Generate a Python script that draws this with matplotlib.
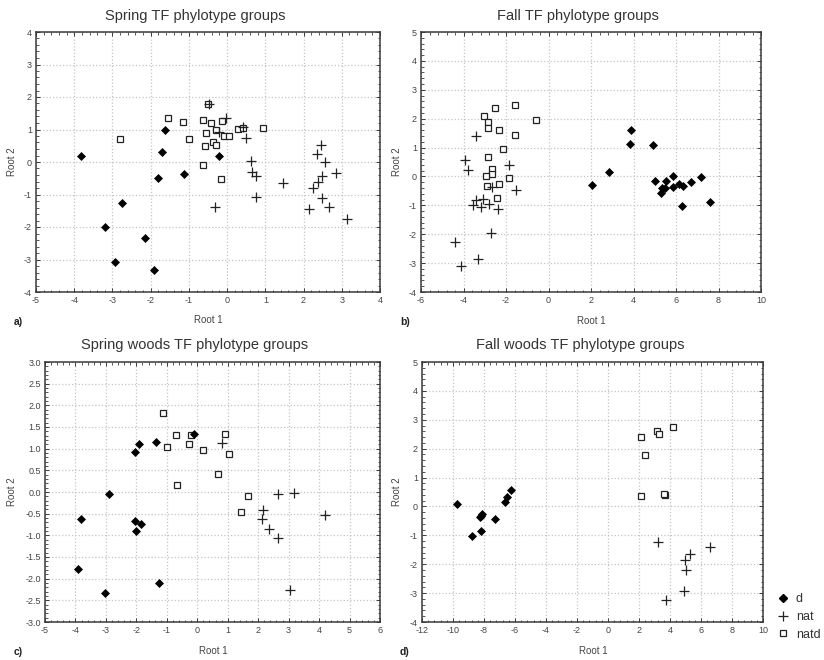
import numpy as np
import matplotlib
matplotlib.use("Agg")
import matplotlib.pyplot as plt
from matplotlib.ticker import MultipleLocator, AutoMinorLocator, FormatStrFormatter
from matplotlib.lines import Line2D

plt.rcParams['font.family'] = ['Liberation Sans', 'DejaVu Sans']
plt.rcParams['axes.unicode_minus'] = False

W, H = 824, 660

# ------------------------------------------------------------------
# Discriminant scores (Root 1, Root 2) per group
# ------------------------------------------------------------------
# a) Spring TF
spring_d_x = [-3.81, -1.63, -1.71, -1.80, -1.12, -0.22, -2.75, -3.19, -2.15, -2.94, -1.90]
spring_d_y = [0.18, 0.99, 0.31, -0.48, -0.36, 0.18, -1.26, -1.99, -2.35, -3.08, -3.31]
spring_nat_x = [-0.47, -0.04, 0.41, 0.50, 0.62, 0.66, 0.76, 0.76, 1.45, -0.32, 2.45,
                2.34, 2.56, 2.84, 2.48, 2.38, 2.25, 2.48, 2.15, 2.66, 3.14, -0.22]
spring_nat_y = [1.80, 1.36, 1.08, 0.73, 0.04, -0.31, -0.43, -1.09, -0.65, -1.37, 0.51,
                0.26, 0.01, -0.33, -0.42, -0.63, -0.80, -1.12, -1.44, -1.39, -1.76, 0.93]
spring_natd_x = [-2.80, -1.54, -1.15, -0.99, -0.64, -0.43, -0.50, -0.54, -0.28, -0.14,
                 -0.58, -0.37, -0.29, -0.08, 0.04, 0.28, 0.42, 0.93, -0.64, -0.16]
spring_natd_y = [0.71, 1.36, 1.24, 0.71, 1.30, 1.21, 1.77, 0.90, 0.99, 1.27,
                 0.49, 0.62, 0.53, 0.81, 0.81, 1.02, 1.04, 1.06, -0.10, -0.53]

# b) Fall TF
fall_d_x = [2.03, 2.85, 3.90, 3.85, 4.90, 5.01, 5.53, 5.87, 5.29, 5.36, 5.48, 5.87,
            6.16, 6.31, 6.69, 7.16, 6.30, 7.60]
fall_d_y = [-0.28, 0.14, 1.61, 1.11, 1.09, -0.15, -0.15, 0.03, -0.56, -0.39, -0.39, -0.35,
            -0.27, -0.34, -0.18, -0.03, -1.02, -0.88]
fall_nat_x = [-3.41, -3.92, -3.77, -1.86, -1.52, -2.67, -3.42, -3.06, -3.56, -3.19,
              -2.78, -2.39, -2.72, -4.40, -3.33, -4.10]
fall_nat_y = [1.39, 0.57, 0.23, 0.40, -0.48, -0.36, -0.83, -0.79, -1.00, -1.06,
              -0.97, -1.13, -1.96, -2.27, -2.87, -3.11]
fall_natd_x = [-2.52, -1.59, -3.05, -2.84, -2.84, -2.31, -0.59, -1.59, -2.13, -2.84,
               -2.64, -2.66, -2.94, -2.88, -2.31, -1.84, -2.42]
fall_natd_y = [2.38, 2.48, 2.09, 1.87, 1.68, 1.61, 1.95, 1.44, 0.94, 0.69,
               0.26, 0.08, 0.03, -0.33, -0.26, -0.07, -0.75]

# c) Spring woods TF
swoods_d_x = [-3.83, -2.90, -2.05, -1.90, -1.37, -0.11, -2.03, -1.86, -2.00, -3.91, -3.02, -1.27]
swoods_d_y = [-0.62, -0.05, 0.92, 1.10, 1.15, 1.34, -0.68, -0.74, -0.90, -1.77, -2.33, -2.10]
swoods_nat_x = [0.82, 2.65, 3.16, 2.17, 2.12, 2.36, 2.65, 4.20, 3.05]
swoods_nat_y = [1.13, -0.05, -0.03, -0.42, -0.63, -0.85, -1.05, -0.52, -2.27]
swoods_natd_x = [-1.14, -0.98, -0.71, -0.22, -0.27, 0.20, 0.91, 1.05, 0.68, -0.67, 1.67, 1.43]
swoods_natd_y = [1.83, 1.03, 1.31, 1.32, 1.10, 0.96, 1.35, 0.88, 0.42, 0.17, -0.10, -0.46]

# d) Fall woods TF
fwoods_d_x = [-9.74, -8.75, -8.21, -8.28, -8.13, -8.20, -7.29, -6.66, -6.51, -6.23]
fwoods_d_y = [0.09, -1.04, -0.86, -0.38, -0.27, -0.32, -0.44, 0.15, 0.33, 0.56]
fwoods_nat_x = [3.23, 6.60, 5.31, 4.97, 5.05, 4.88, 3.76]
fwoods_nat_y = [-1.23, -1.41, -1.66, -1.84, -2.21, -2.93, -3.25]
fwoods_natd_x = [2.10, 3.15, 3.28, 4.19, 2.41, 2.10, 3.68, 3.62]
fwoods_natd_y = [2.40, 2.60, 2.50, 2.74, 1.79, 0.37, 0.40, 0.42]

titles = ["Spring TF phylotype groups", "Fall TF phylotype groups",
          "Spring woods TF phylotype groups", "Fall woods TF phylotype groups"]
letters = ["a)", "b)", "c)", "d)"]

panels = [
    (spring_d_x, spring_d_y, spring_nat_x, spring_nat_y, spring_natd_x, spring_natd_y),
    (fall_d_x, fall_d_y, fall_nat_x, fall_nat_y, fall_natd_x, fall_natd_y),
    (swoods_d_x, swoods_d_y, swoods_nat_x, swoods_nat_y, swoods_natd_x, swoods_natd_y),
    (fwoods_d_x, fwoods_d_y, fwoods_nat_x, fwoods_nat_y, fwoods_natd_x, fwoods_natd_y),
]

# axis ranges and tick steps per panel
xlims = [(-5, 4), (-6, 10), (-5, 6), (-12, 10)]
ylims = [(-4, 4), (-4, 5), (-3, 3), (-4, 5)]
xsteps = [1, 2, 1, 2]
ysteps = [1, 1, 0.5, 1]

# layout in pixels: (left, top, right, bottom) of each plot frame
boxes = [(36, 32, 380, 292), (421, 32, 761, 292),
         (45, 362, 380, 622), (422, 362, 763, 622)]
title_pos = [(195, 16), (578, 16), (195, 345), (580, 345)]
xlabel_pos = [(208, 320), (591, 321), (213, 651), (593, 651)]
ylabel_pos = [(12, 162), (397, 162), (12, 492), (397, 492)]
letter_pos = [(14, 322), (400, 322), (14, 652), (400, 652)]


def fx(px):
    return px / W


def fy(py):
    return 1 - py / H


TXT = "#444444"
FRAME = "#3a3a3a"

fig = plt.figure(figsize=(W / 100, H / 100), dpi=100)

for i, (dx, dy, nx, ny, sx, sy) in enumerate(panels):
    l, t, r, b = boxes[i]
    ax = fig.add_axes([fx(l), fy(b), (r - l) / W, (b - t) / H])

    ax.plot(sx, sy, ls="none", marker="s", ms=4.6, mfc="white",
            mec="#222222", mew=0.9, zorder=3)
    ax.plot(nx, ny, ls="none", marker="+", ms=6.5, mec="#222222",
            mew=0.9, zorder=3)
    ax.plot(dx, dy, ls="none", marker="D", ms=4.3, mfc="black",
            mec="black", mew=0.5, zorder=4)

    ax.set_xlim(*xlims[i])
    ax.set_ylim(*ylims[i])
    ax.xaxis.set_major_locator(MultipleLocator(xsteps[i]))
    ax.yaxis.set_major_locator(MultipleLocator(ysteps[i]))
    ax.xaxis.set_minor_locator(AutoMinorLocator(5))
    ax.yaxis.set_minor_locator(AutoMinorLocator(5))
    if ysteps[i] < 1:
        ax.yaxis.set_major_formatter(FormatStrFormatter("%.1f"))

    ax.grid(True, which="major", color="#c4c4c4", ls=":", lw=0.9)
    ax.tick_params(which="both", direction="in", top=True, right=True,
                   colors=FRAME, labelcolor=TXT, labelsize=6.5, pad=3)
    ax.tick_params(which="major", length=3, width=0.7)
    ax.tick_params(which="minor", length=1.8, width=0.6)
    for sp in ax.spines.values():
        sp.set_color(FRAME)
        sp.set_linewidth(1.1)

    ax.set_xlabel("Root 1", fontsize=7, color=TXT)
    ax.set_ylabel("Root 2", fontsize=7, color=TXT)
    ax.xaxis.set_label_coords(fx(xlabel_pos[i][0]), fy(xlabel_pos[i][1]),
                              transform=fig.transFigure)
    ax.yaxis.set_label_coords(fx(ylabel_pos[i][0]), fy(ylabel_pos[i][1]),
                              transform=fig.transFigure)
    ax.xaxis.label.set_verticalalignment("center")
    ax.yaxis.label.set_verticalalignment("center")

    fig.text(fx(title_pos[i][0]), fy(title_pos[i][1]), titles[i],
             fontsize=10.5, color="#333333", ha="center", va="center")
    fig.text(fx(letter_pos[i][0]), fy(letter_pos[i][1]), letters[i],
             fontsize=7.5, fontweight="bold", color="#222222",
             ha="left", va="center")

# group key in the lower right corner
handles = [
    Line2D([], [], ls="none", marker="D", ms=4.3, mfc="black", mec="black"),
    Line2D([], [], ls="none", marker="+", ms=6.5, mec="#222222", mew=0.9),
    Line2D([], [], ls="none", marker="s", ms=4.6, mfc="white", mec="#222222", mew=0.9),
]
fig.legend(handles, ["d", "nat", "natd"], loc="center left",
           bbox_to_anchor=(fx(777), fy(617)), frameon=False, fontsize=9,
           labelcolor="#333333", handlelength=1.0, handletextpad=0.5,
           labelspacing=0.45, borderpad=0, borderaxespad=0)

fig.savefig("out.png", dpi=100)
